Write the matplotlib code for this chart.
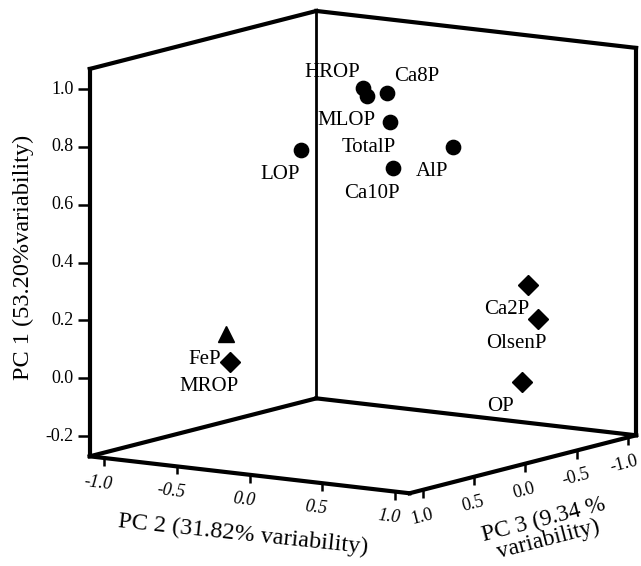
import numpy as np
import matplotlib.pyplot as plt
from mpl_toolkits.mplot3d import proj3d

plt.rcParams['font.family'] = ['Liberation Serif', 'DejaVu Serif']

# cargas de cada variable
names = ['HROP', 'MLOP', 'Ca8P', 'TotalP', 'AlP', 'Ca10P', 'LOP',
         'Ca2P', 'OlsenP', 'OP', 'FeP', 'MROP']
pc1 = [0.97, 0.94, 0.95, 0.87, 0.77, 0.66, 0.74, 0.30, 0.18, -0.03, 0.17, -0.02]
pc2 = [0.02, 0.01, 0.11, 0.24, 0.46, -0.02, -0.37, 0.85, 0.88, 0.85, -0.36, -0.85]
pc3 = [0.05, 0.00, -0.05, 0.10, -0.20, -0.30, 0.10, -0.38, -0.43, -0.32, 0.85, 0.12]
groups = ['o'] * 7 + ['D', 'D', 'D', '^', 'D']

pc1_ticks = [-0.2, 0.0, 0.2, 0.4, 0.6, 0.8, 1.0]
pc2_ticks = [-1.0, -0.5, 0.0, 0.5, 1.0]
pc3_ticks = [1.0, 0.5, 0.0, -0.5, -1.0]

W, H = 641, 566
fig = plt.figure(figsize=(W / 100, H / 100), dpi=100)
ax = fig.add_axes([0, 0, 1, 1], projection='3d')
ax.set_proj_type('ortho')
# x = PC3, y = PC2, z = PC1
x0, x1 = -1.08, 1.13
y0, y1 = -1.1, 1.1
z0, z1 = -0.27, 1.07
ax.set_xlim(x0, x1)
ax.set_ylim(y0, y1)
ax.set_zlim(z0, z1)
ax.set_box_aspect((407, 386, 394))
ax.view_init(elev=9.9, azim=33.9)
ax.set_axis_off()

# caja (paredes del fondo y piso)
edges = [
    ([x1, x1], [y0, y1], [z0, z0]),
    ([x1, x0], [y1, y1], [z0, z0]),
    ([x0, x0], [y1, y0], [z0, z0]),
    ([x0, x1], [y0, y0], [z0, z0]),
    ([x1, x1], [y0, y0], [z0, z1]),
    ([x0, x0], [y1, y1], [z0, z1]),
    ([x1, x0], [y0, y0], [z1, z1]),
    ([x0, x0], [y0, y1], [z1, z1]),
]
for xs, ys, zs in edges:
    ax.plot(xs, ys, zs, color='black', lw=3, solid_capstyle='projecting')
ax.plot([x0, x0], [y0, y0], [z0, z1], color='black', lw=2)

# ticks
ax.plot([x1] * len(pc1_ticks), [y0] * len(pc1_ticks), pc1_ticks, ls='none',
        marker=0, ms=9, mew=1.8, color='black')
ax.plot([x1] * len(pc2_ticks), pc2_ticks, [z0] * len(pc2_ticks), ls='none',
        marker=3, ms=6, mew=1.8, color='black')
ax.plot(pc3_ticks, [y1] * len(pc3_ticks), [z0] * len(pc3_ticks), ls='none',
        marker=3, ms=6, mew=1.8, color='black')

# puntos
tam = {'o': 10.3, 'D': 10.5, '^': 11}
for m in ['o', 'D', '^']:
    sel = [i for i, g in enumerate(groups) if g == m]
    ax.plot([pc3[i] for i in sel], [pc2[i] for i in sel], [pc1[i] for i in sel],
            ls='none', marker=m, ms=tam[m], color='black')

# ajustar la posicion de los ejes para que la caja caiga donde esta en la figura
corners = np.array([[x1, y0, z0], [x1, y1, z0], [x0, y1, z0], [x0, y0, z0],
                    [x1, y0, z1], [x0, y0, z1], [x0, y1, z1]])
target = np.array([[90, 456], [410, 493], [637, 435], [315, 398],
                   [90, 68], [315, 11], [637, 50]], float)
target[:, 1] = H - target[:, 1]


def a_pantalla(pts):
    pts = np.atleast_2d(np.asarray(pts, float))
    px, py, _ = proj3d.proj_transform(pts[:, 0], pts[:, 1], pts[:, 2], ax.get_proj())
    return ax.transData.transform(np.column_stack([px, py]))


for _ in range(3):
    fig.canvas.draw()
    got = a_pantalla(corners)
    gm, tm = got.mean(0), target.mean(0)
    k = ((got - gm) * (target - tm)).sum() / ((got - gm) ** 2).sum()
    t = tm - k * gm
    pos = ax.get_position(original=True)
    ax.set_position([(k * pos.x0 * W + t[0]) / W, (k * pos.y0 * H + t[1]) / H,
                     k * pos.width, k * pos.height])
fig.canvas.draw()


def etiqueta(p, s, dx, dy, direc=None, **kw):
    d = a_pantalla(p)[0]
    rot = 0
    if direc is not None:
        e = a_pantalla(np.asarray(p, float) + np.asarray(direc, float))[0] - d
        rot = np.degrees(np.arctan2(e[1], e[0]))
    fig.text((d[0] + dx) / W, (d[1] + dy) / H, s, rotation=rot,
             rotation_mode='anchor', ha=kw.pop('ha', 'center'), va='center', **kw)


for v in pc1_ticks:
    etiqueta((x1, y0, v), f'{v:.1f}', -16, 0, ha='right', fontsize=13)
for v in pc2_ticks:
    etiqueta((x1, v, z0), f'{v:.1f}', -6, -25, direc=(0, 1, 0),
             fontsize=13, style='italic')
for v in pc3_ticks:
    etiqueta((v, y1, z0), f'{v:.1f}', -1 if v > -1 else -4, -27,
             direc=(-1, 0, 0), fontsize=13)

especial = {'HROP': (-31, 16), 'Ca8P': (30, 16)}
for n, a, b, c in zip(names, pc1, pc2, pc3):
    dx, dy = especial.get(n, (-21, -25))
    etiqueta((c, b, a), n, dx, dy, fontsize=15)

fig.text(23 / W, 1 - 257 / H, 'PC 1 (53.20%variability)', rotation=90,
         ha='center', va='center', fontsize=17.5)
fig.text(243 / W, 1 - 535 / H, 'PC 2 (31.82% variability)', rotation=-6,
         rotation_mode='anchor', ha='center', va='center', fontsize=17.5)
fig.text(546 / W, 1 - 530 / H, 'PC 3 (9.34 %\nvariability)', rotation=14.5,
         rotation_mode='anchor', ha='center', va='center',
         multialignment='center', linespacing=0.95, fontsize=17)

fig.savefig('out.png', dpi=100)
